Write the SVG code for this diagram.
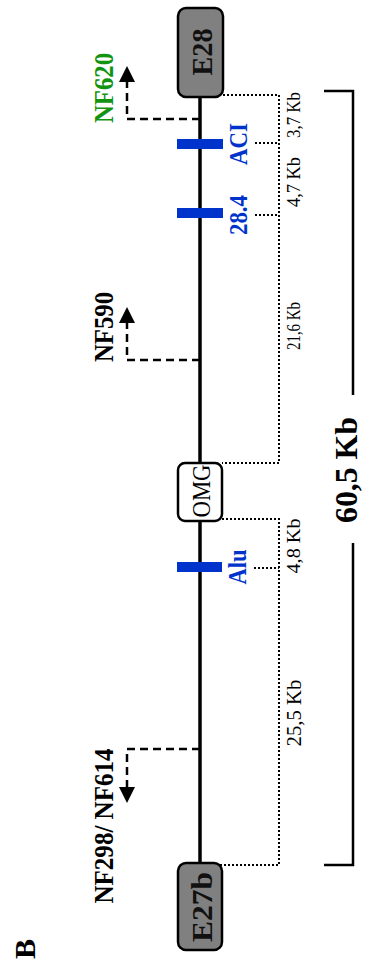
<svg xmlns="http://www.w3.org/2000/svg" width="366" height="960" viewBox="0 0 366 960">
<style>
text{font-family:"Liberation Serif","Times New Roman",serif;}
.b{font-weight:bold;}
.blue{fill:#0033cc;font-weight:bold;}
.bar{fill:#0033cc;}
.dot{fill:none;stroke:#000;stroke-width:2;stroke-dasharray:2 2;}
.dash{fill:none;stroke:#000;stroke-width:2.5;stroke-dasharray:8 5;}
.solid{fill:none;stroke:#000;stroke-width:2.5;}
.exon{fill:#808080;stroke:#000;stroke-width:2.5;}
.kb{font-size:19px;}
</style>
<defs>
<marker id="ah" markerUnits="userSpaceOnUse" markerWidth="16" markerHeight="16" refX="2" refY="8" orient="auto">
<path d="M0,0 L16,8 L0,16 Z" fill="#000"/>
</marker>
</defs>
<rect width="366" height="960" fill="#fff"/>
<g id="connectors">
<line x1="200" y1="96" x2="200" y2="864" stroke="#000" stroke-width="3.5"/>
<path class="dash" d="M200,119 H127 V80" marker-end="url(#ah)"/>
<path class="dash" d="M200,360 H127 V321" marker-end="url(#ah)"/>
<path class="dash" d="M200,749 H127 V789" marker-end="url(#ah)"/>
<path class="dot" d="M219,95 H279 V463 H222"/>
<path class="dot" d="M255,143 H279"/>
<path class="dot" d="M255,215 H279"/>
<path class="dot" d="M222,519 H279 V865 H219"/>
<path class="dot" d="M254,568 H279"/>
<path class="solid" d="M324,91 H353 V395"/>
<path class="solid" d="M353,543 V865 H324"/>
</g>
<g id="E28">
<rect class="exon" x="178" y="8" width="45" height="89" rx="8"/>
<text class="b" font-size="30" fill="#111" text-anchor="middle" transform="translate(212,52) rotate(-90)" textLength="47" lengthAdjust="spacingAndGlyphs">E28</text>
</g>
<g id="E27b">
<rect class="exon" x="178" y="863" width="44" height="87" rx="8"/>
<text class="b" font-size="30" fill="#111" text-anchor="middle" transform="translate(212,907) rotate(-90)" textLength="70" lengthAdjust="spacingAndGlyphs">E27b</text>
</g>
<g id="OMG">
<rect x="178" y="463" width="44" height="58" rx="7" fill="#fff" stroke="#000" stroke-width="2.5"/>
<text font-size="26" text-anchor="middle" transform="translate(210,491) rotate(-90)" textLength="53" lengthAdjust="spacingAndGlyphs">OMG</text>
</g>
<g id="ACI">
<rect class="bar" x="177" y="139" width="46" height="10"/>
<text class="blue" font-size="25" text-anchor="middle" transform="translate(247,144) rotate(-90)" textLength="42" lengthAdjust="spacingAndGlyphs">ACI</text>
</g>
<g id="m28_4">
<rect class="bar" x="177" y="208" width="46" height="10"/>
<text class="blue" font-size="25" text-anchor="middle" transform="translate(247,215) rotate(-90)" textLength="40" lengthAdjust="spacingAndGlyphs">28.4</text>
</g>
<g id="Alu">
<rect class="bar" x="177" y="562" width="45" height="10"/>
<text class="blue" font-size="25" text-anchor="middle" transform="translate(246,567) rotate(-90)" textLength="35" lengthAdjust="spacingAndGlyphs">Alu</text>
</g>
<g id="NF620">
<text class="b" font-size="28" fill="#129412" text-anchor="middle" transform="translate(113,88) rotate(-90)" textLength="70" lengthAdjust="spacingAndGlyphs">NF620</text>
</g>
<g id="NF590">
<text class="b" font-size="28" text-anchor="middle" transform="translate(113,327) rotate(-90)" textLength="70" lengthAdjust="spacingAndGlyphs">NF590</text>
</g>
<g id="NF298">
<text class="b" font-size="28" text-anchor="middle" transform="translate(113,826) rotate(-90)" textLength="155" lengthAdjust="spacingAndGlyphs">NF298/ NF614</text>
</g>
<g id="labels">
<text class="kb" text-anchor="middle" transform="translate(300,115) rotate(-90)" textLength="46" lengthAdjust="spacingAndGlyphs">3,7 Kb</text>
<text class="kb" text-anchor="middle" transform="translate(300,182) rotate(-90)" textLength="50" lengthAdjust="spacingAndGlyphs">4,7 Kb</text>
<text class="kb" text-anchor="middle" transform="translate(300,326) rotate(-90)" textLength="48" lengthAdjust="spacingAndGlyphs">21,6 Kb</text>
<text class="kb" text-anchor="middle" transform="translate(300,546) rotate(-90)" textLength="55" lengthAdjust="spacingAndGlyphs">4,8 Kb</text>
<text font-size="21" text-anchor="middle" transform="translate(301,713) rotate(-90)" textLength="67" lengthAdjust="spacingAndGlyphs">25,5 Kb</text>
<text class="b" font-size="32" text-anchor="middle" transform="translate(357,470) rotate(-90)" textLength="106" lengthAdjust="spacingAndGlyphs">60,5 Kb</text>
<text class="b" font-size="30" text-anchor="middle" transform="translate(35,949) rotate(-90)">B</text>
</g>
</svg>
